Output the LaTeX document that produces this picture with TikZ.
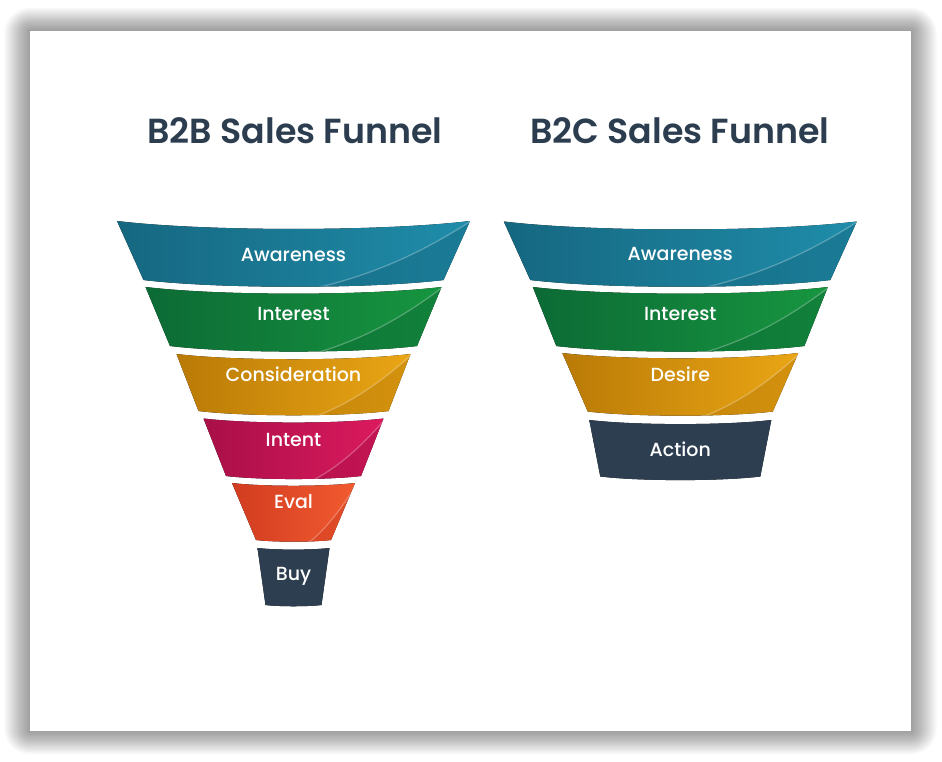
\documentclass[tikz,border=0pt]{standalone}
\usepackage{fontspec}
\setmainfont{Poppins}
\IfFontExistsTF{Poppins SemiBold}{\newfontfamily\titlefont{Poppins SemiBold}}{\newcommand\titlefont{\fontspec{Poppins}\bfseries}}
\IfFontExistsTF{Poppins Medium}{\newfontfamily\labelfont{Poppins Medium}}{\newfontfamily\labelfont{Poppins}}
\definecolor{titlecol}{HTML}{2B3D4F}
\definecolor{tealD}{HTML}{166780}
\definecolor{tealL}{HTML}{1F8DAA}
\definecolor{greenD}{HTML}{0C6A35}
\definecolor{greenL}{HTML}{179640}
\definecolor{amberD}{HTML}{B97A06}
\definecolor{amberL}{HTML}{EAA615}
\definecolor{crimD}{HTML}{A80F47}
\definecolor{crimL}{HTML}{DC1A5E}
\definecolor{orD}{HTML}{D13C20}
\definecolor{orL}{HTML}{F25B30}
\definecolor{navy}{HTML}{2C3E50}
\tikzset{
  swoosh/.style={white, opacity=0.28, line width=1.2pt},
  swfill/.style={opacity=0.45},
  lbl/.style={text=white, font=\labelfont\fontsize{19}{22}\selectfont, anchor=base, inner sep=0pt},
  ttl/.style={text=titlecol, font=\titlefont\fontsize{34.8}{40}\selectfont, anchor=base, inner sep=0pt},
}
% #1 cx, #2 top y, #3 bottom y, #4 top half width, #5 bottom half width, #6 dark, #7 light
\newcommand\fband[7]{%
  \pgfmathsetmacro\fbL{#1-#4}\pgfmathsetmacro\fbR{#1+#4}%
  \pgfmathsetmacro\fbl{#1-#5}\pgfmathsetmacro\fbr{#1+#5}%
  \pgfmathsetmacro\fbcT{#2+4/3*0.045*#4}\pgfmathsetmacro\fbcB{#3+4/3*0.045*#5}%
  \pgfmathsetmacro\fbhL{#1-#4/2}\pgfmathsetmacro\fbhR{#1+#4/2}%
  \pgfmathsetmacro\fbhl{#1-#5/2}\pgfmathsetmacro\fbhr{#1+#5/2}%
  \pgfmathsetmacro\swA{#1-0.05*#4}\pgfmathsetmacro\swB{#1+0.45*#4}%
  \pgfmathsetmacro\swC{#1+0.8*#4}\pgfmathsetmacro\swY{#2+0.4*(#3-#2)}%
  \begin{scope}
    \clip (\fbL,#2) .. controls (\fbhL,\fbcT) and (\fbhR,\fbcT) .. (\fbR,#2)
      -- (\fbr,#3) .. controls (\fbhr,\fbcB) and (\fbhl,\fbcB) .. (\fbl,#3) -- cycle;
    \fill[left color=#6, right color=#7] (\fbL-2,#2-2) rectangle (\fbR+2,#3+14);
    \fill[#6, swfill] (\swA,#3+14) .. controls (\swB,#3) and (\swC,\swY) .. (\fbR+4,#2-2)
      -- (\fbR+4,#3+14) -- cycle;
    \draw[swoosh] (\swA,#3+14) .. controls (\swB,#3) and (\swC,\swY) .. (\fbR+4,#2-2);
  \end{scope}
}
\begin{document}
\begin{tikzpicture}[x=1pt,y=-1pt]
\useasboundingbox (0,0) rectangle (942,762);
\fill[white] (0,0) rectangle (942,762);
% card shadow
\foreach \i in {1,...,26}
  \fill[black, opacity=0.016, rounded corners=\i pt] (30-\i,31-0.9*\i) rectangle (911+\i,731+0.9*\i);
\fill[white] (30,31) rectangle (911,731);

% titles
\node[ttl] (t2b) at (295,144) {B2B Sales Funnel};
\node[ttl] (t2c) at (680,144) {B2C Sales Funnel};

% B2B funnel
\fband{293.5}{221}{280}{176.5}{150}{tealD}{tealL}
\fband{293.5}{287}{346}{148}{123.5}{greenD}{greenL}
\fband{293.5}{354}{411}{117}{95}{amberD}{amberL}
\fband{293.5}{418.5}{476}{90}{67.5}{crimD}{crimL}
\fband{293.5}{483}{540}{61.5}{37.5}{orD}{orL}
\begin{scope}[swoosh/.style={opacity=0}, swfill/.style={opacity=0}]
\fband{293.5}{548}{605}{36}{28}{navy}{navy}
\end{scope}
\node[lbl] (l1) at (293.5,261) {Awareness};
\node[lbl] (l2) at (293.5,320.5) {Interest};
\node[lbl] (l3) at (293.5,381.5) {Consideration};
\node[lbl] (l4) at (293.5,446) {Intent};
\node[lbl] (l5) at (293.5,508.3) {Eval};
\node[lbl] (l6) at (293.5,580.7) {Buy};

% B2C funnel
\fband{680.3}{221.5}{280}{176.5}{150}{tealD}{tealL}
\fband{680.3}{287}{346}{147.5}{124}{greenD}{greenL}
\fband{680.3}{353}{411.5}{118}{92.5}{amberD}{amberL}
\begin{scope}[swoosh/.style={opacity=0}, swfill/.style={opacity=0}]
\fband{680.3}{420}{476.5}{91}{80}{navy}{navy}
\end{scope}
\node[lbl] (r1) at (680.3,260.5) {Awareness};
\node[lbl] (r2) at (680.3,320.5) {Interest};
\node[lbl] (r3) at (680.3,381.5) {Desire};
\node[lbl] (r4) at (680.3,456) {Action};
\end{tikzpicture}
\end{document}
